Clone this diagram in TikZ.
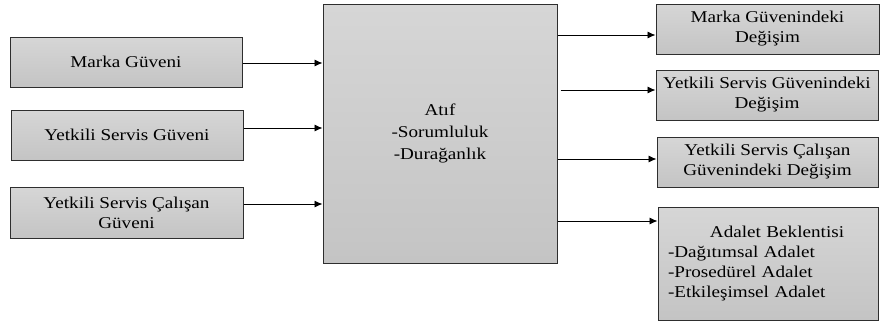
\documentclass[tikz,border=0pt]{standalone}
\usepackage{fontspec}
\setmainfont[FakeStretch=1.16]{Liberation Serif}
\usetikzlibrary{arrows.meta}
\definecolor{boxtop}{HTML}{D6D6D6}
\definecolor{boxbot}{HTML}{C4C4C4}
\definecolor{edge}{HTML}{2E2E2E}
\begin{document}
\begin{tikzpicture}[x=1pt,y=-1pt,
  every node/.style={font=\fontsize{16.5}{20}\selectfont, text=black},
  box/.style={draw=edge, line width=1pt, top color=boxtop, bottom color=boxbot,
    inner sep=0pt, align=center},
  arr/.style={draw=black, line width=0.9pt, -{Latex[length=8pt,width=7pt]}}]
\useasboundingbox (0,0) rectangle (880,327);
% left boxes
\node[box, minimum width=232pt, minimum height=50pt] (L1) at (126,62) {Marka Güveni};
\node[box, minimum width=232pt, minimum height=50pt] (L2) at (127,135) {Yetkili Servis Güveni};
\node[box, minimum width=233pt, minimum height=51pt] (L3) at (126.5,212.5) {Yetkili Servis Çalışan\\Güveni};
% center box
\node[box, minimum width=234pt, minimum height=259pt,
  font=\fontsize{16.5}{22}\selectfont] (C) at (440,133.5) {Atıf\\-Sorumluluk\\-Durağanlık};
% right boxes
\node[box, minimum width=223pt, minimum height=50pt] (R1) at (767.5,29) {Marka Güvenindeki\\Değişim};
\node[box, minimum width=222pt, minimum height=50pt] (R2) at (767,95) {Yetkili Servis Güvenindeki\\Değişim};
\node[box, minimum width=221pt, minimum height=50pt] (R3) at (767.5,162) {Yetkili Servis Çalışan\\Güvenindeki Değişim};
\node[box, minimum width=220pt, minimum height=113pt, text width=200pt, align=left] (R4) at (768,263.5)
  {\makebox[\linewidth]{\hspace{18pt}Adalet Beklentisi}\\-Dağıtımsal Adalet\\-Prosedürel Adalet\\-Etkileşimsel Adalet};
% arrows in
\draw[arr] (L1.east |- 0,63) -- (C.west |- 0,63);
\draw[arr] (L2.east |- 0,128) -- (C.west |- 0,128);
\draw[arr] (L3.east |- 0,204) -- (C.west |- 0,204);
% arrows out
\draw[arr] (C.east |- 0,35) -- (R1.west |- 0,35);
\draw[arr] ([xshift=3pt]C.east |- 0,90) -- (R2.west |- 0,90);
\draw[arr] (C.east |- 0,159) -- (R3.west |- 0,159);
\draw[arr] (C.east |- 0,221) -- (R4.west |- 0,221);
\end{tikzpicture}
\end{document}
